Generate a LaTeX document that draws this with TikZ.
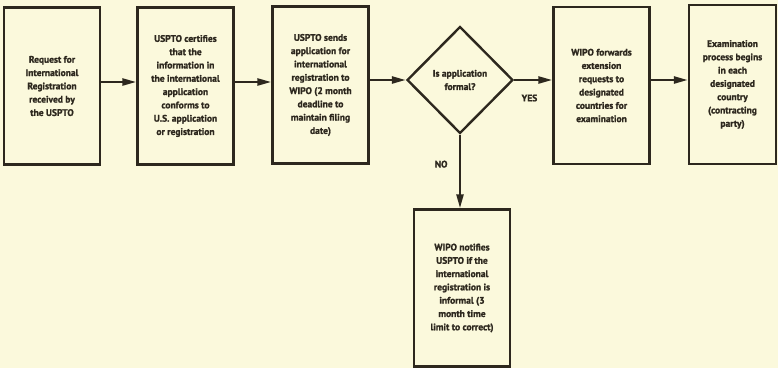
\documentclass[tikz,border=0pt]{standalone}
\usepackage{fontspec}
\setmainfont{PT Sans}[BoldFeatures={FakeBold=1.5}]
\usetikzlibrary{shapes.geometric,arrows.meta}
\definecolor{paper}{RGB}{251,249,220}
\definecolor{ink}{RGB}{45,40,30}
\begin{document}
\begin{tikzpicture}[x=1pt,y=-1pt,line width=2.4pt,draw=ink,
  >={Triangle[length=14pt,width=7pt]}]
\tikzstyle{box}=[draw=ink, rectangle, minimum width=96pt, minimum height=157pt,
  inner sep=0pt, align=center, text=ink, font=\bfseries\fontsize{9.5}{13.3}\selectfont]
\tikzstyle{decision}=[draw=ink, diamond, minimum width=106pt, minimum height=107pt,
  inner sep=0pt, align=center, text=ink, font=\bfseries\fontsize{9.5}{13.3}\selectfont]
\tikzstyle{answer}=[text=ink, font=\bfseries\fontsize{9.5}{10}\selectfont]

\fill[paper] (0,0) rectangle (778,368);
\useasboundingbox (0,0) rectangle (778,368);

\node[box] (A) at (52, 86) {Request for\\International\\Registration\\received by\\the USPTO};
\node[box] (B) at (185.5, 86) {USPTO certifies\\that the\\information in\\the international\\application\\conforms to\\U.S. application\\or registration};
\node[box] (C) at (320.5, 85) {USPTO sends\\application for\\international\\registration to\\WIPO (2 month\\deadline to\\maintain filing\\date)};
\node[decision] (D) at (460, 80) {Is application\\formal?};
\node[box] (E) at (601.5, 85.5) {WIPO forwards\\extension\\requests to\\designated\\countries for\\examination};
\node[box, minimum width=87pt, minimum height=159pt] (F) at (732.5, 84.5) {Examination\\process begins\\in each\\designated\\country\\(contracting\\party)};
\node[box] (G) at (462, 288) {WIPO notifies\\USPTO if the\\international\\registration is\\informal (3\\month time\\limit to correct)};

\draw[->] (A.east |- 0,82) -- (B.west |- 0,82);
\draw[->] (B.east |- 0,82) -- (C.west |- 0,82);
\draw[->] (C.east |- D.west) -- (D.west);
\draw[->] (D.east) -- (D.east -| E.west)
    node [answer, below, pos=0.4, yshift=-10pt] {YES};
\draw[->] (E.east |- 0,80) -- (F.west |- 0,80);
\draw[->] (D.south) -- (D.south |- G.north)
    node [answer, left, pos=0.4, xshift=-8pt] {NO};

\end{tikzpicture}
\end{document}
